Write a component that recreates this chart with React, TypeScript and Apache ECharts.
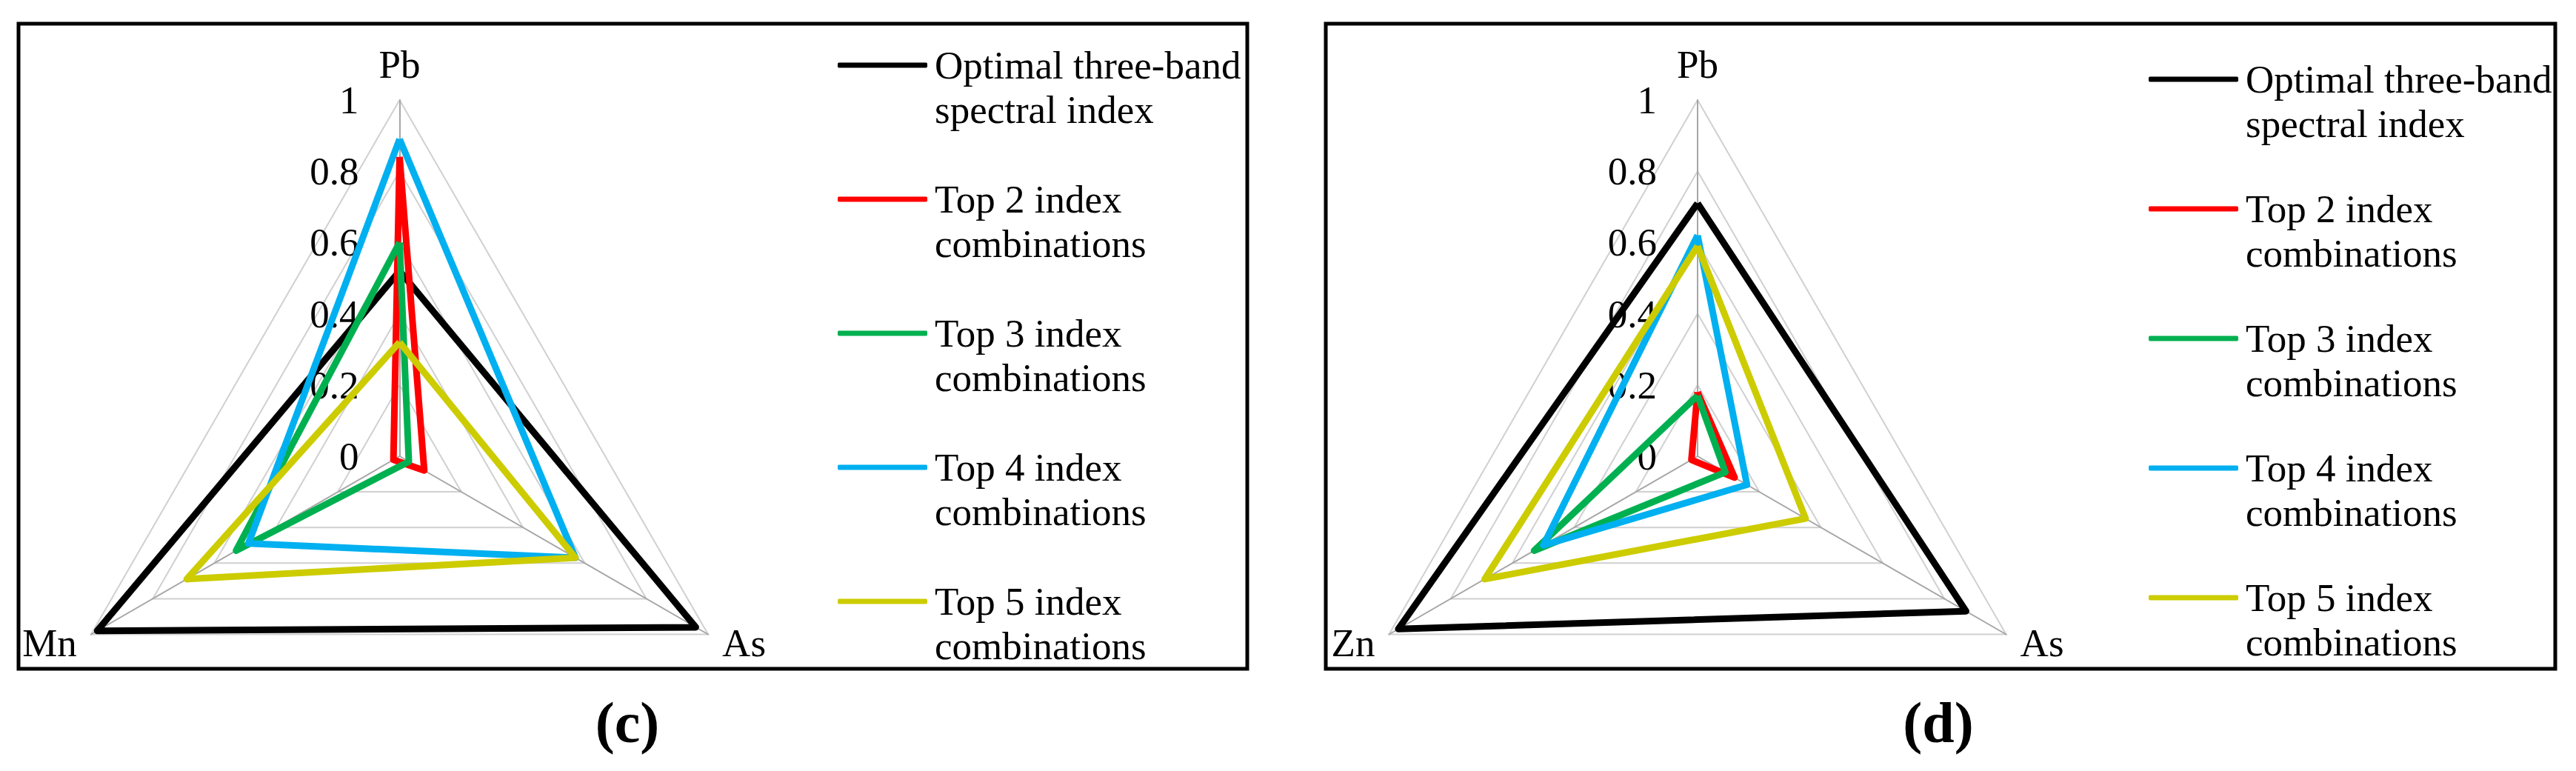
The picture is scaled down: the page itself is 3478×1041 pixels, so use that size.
import React, { useEffect, useRef } from "react";
import * as echarts from "echarts";

const FONT = "Liberation Serif, Times New Roman, serif";

const seriesNames = [
  "Optimal three-band spectral index",
  "Top 2 index combinations",
  "Top 3 index combinations",
  "Top 4 index combinations",
  "Top 5 index combinations",
];
const legendLabels: Record<string, string> = {
  "Optimal three-band spectral index": "Optimal three-band\nspectral index",
  "Top 2 index combinations": "Top 2 index\ncombinations",
  "Top 3 index combinations": "Top 3 index\ncombinations",
  "Top 4 index combinations": "Top 4 index\ncombinations",
  "Top 5 index combinations": "Top 5 index\ncombinations",
};
const colors = ["#000000", "#ff0000", "#00b050", "#00b0f0", "#cccc00"];

// Panel (c): axes Pb, Mn, As
const axesC = ["Pb", "Mn", "As"];
const optimalC = [0.52, 0.98, 0.96];
const top2C = [0.84, 0.02, 0.08];
const top3C = [0.6, 0.53, 0.03];
const top4C = [0.89, 0.49, 0.57];
const top5C = [0.32, 0.69, 0.57];

// Panel (d): axes Pb, Zn, As
const axesD = ["Pb", "Zn", "As"];
const optimalD = [0.71, 0.97, 0.87];
const top2D = [0.18, 0.02, 0.12];
const top3D = [0.17, 0.53, 0.09];
const top4D = [0.62, 0.5, 0.16];
const top5D = [0.59, 0.69, 0.35];

const axisMin = 0;
const axisMax = 1;
const splitCount = 5;
const captions = ["(c)", "(d)"];

function makeRadar(axes: string[], center: number[]) {
  return {
    center,
    radius: 481,
    startAngle: 90,
    shape: "polygon",
    splitNumber: splitCount,
    indicator: axes.map((n, i) => ({
      name: n,
      min: axisMin,
      max: axisMax,
      axisLabel: { show: i === 0 },
    })),
    axisName: { color: "#000", fontFamily: FONT, fontSize: 53 },
    axisNameGap: 22,
    axisLine: { lineStyle: { color: "#a6a6a6", width: 2 } },
    splitLine: { lineStyle: { color: "#d0d0d0", width: 2 } },
    splitArea: { show: false },
    axisTick: { show: false },
    axisLabel: {
      color: "#000",
      fontFamily: FONT,
      fontSize: 53,
      margin: 55,
    },
  };
}

function makeSeries(radarIndex: number, values: number[][]) {
  return {
    type: "radar",
    radarIndex,
    symbol: "none",
    silent: true,
    emphasis: { disabled: true },
    data: values.map((v, i) => ({
      name: seriesNames[i],
      value: v,
      lineStyle: { color: colors[i], width: 9 },
      itemStyle: { color: colors[i] },
    })),
  };
}

function makeLegend(left: number, top: number, lineHeight: number, gap: number) {
  return {
    orient: "vertical",
    left,
    top,
    padding: 0,
    itemGap: gap,
    itemWidth: 121,
    itemHeight: 7,
    icon: "roundRect",
    itemStyle: { borderWidth: 0 },
    data: seriesNames,
    selectedMode: false,
    formatter: (n: string) => "\n" + legendLabels[n],
    textStyle: {
      color: "#000",
      fontFamily: FONT,
      fontSize: 53,
      lineHeight,
      padding: [0, 0, 0, 5],
    },
  };
}

export default function App() {
  const ref = useRef<HTMLDivElement>(null);
  useEffect(() => {
    if (!ref.current) return;
    const chart = echarts.init(ref.current, null, { renderer: "svg" });
    chart.setOption({
      animation: false,
      backgroundColor: "#ffffff",
      radar: [makeRadar(axesC, [539.5, 616]), makeRadar(axesD, [2292, 616])],
      legend: [makeLegend(1131, -2, 60, 1), makeLegend(2901, 17, 60, -5)],
      series: [
        makeSeries(0, [optimalC, top2C, top3C, top4C, top5C]),
        makeSeries(1, [optimalD, top2D, top3D, top4D, top5D]),
      ],
      graphic: [
        {
          type: "rect",
          shape: { x: 25, y: 32, width: 1659, height: 871 },
          style: { fill: "none", stroke: "#000", lineWidth: 5 },
          silent: true,
        },
        {
          type: "rect",
          shape: { x: 1790, y: 32, width: 1660, height: 871 },
          style: { fill: "none", stroke: "#000", lineWidth: 5 },
          silent: true,
        },
        {
          type: "text",
          x: 847,
          y: 975,
          style: {
            text: captions[0],
            fill: "#000",
            fontFamily: FONT,
            fontSize: 78,
            fontWeight: "bold",
            textAlign: "center",
            textVerticalAlign: "middle",
          },
        },
        {
          type: "text",
          x: 2617,
          y: 975,
          style: {
            text: captions[1],
            fill: "#000",
            fontFamily: FONT,
            fontSize: 78,
            fontWeight: "bold",
            textAlign: "center",
            textVerticalAlign: "middle",
          },
        },
      ],
    });
    return () => chart.dispose();
  }, []);
  return (
    <div
      ref={ref}
      style={{ position: "absolute", left: 0, top: 0, width: 3478, height: 1041, background: "#fff" }}
    />
  );
}
